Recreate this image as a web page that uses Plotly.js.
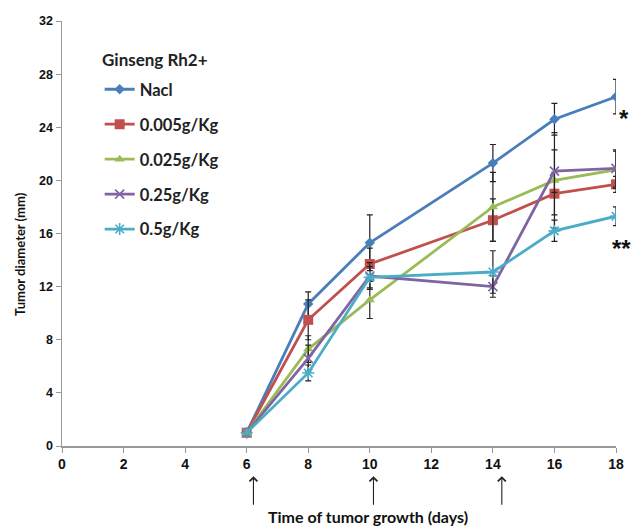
<!DOCTYPE html>
<html>
<head>
<meta charset="utf-8">
<script src="https://cdn.plot.ly/plotly-3.0.1.min.js"></script>
<style>html,body{margin:0;padding:0;background:#fff;}#chart{width:632px;height:526px;}</style>
</head>
<body>
<div id="chart"></div>
<script>
var days = [6, 8, 10, 14, 16, 18];
var seriesNames = ["Nacl", "0.005g/Kg", "0.025g/Kg", "0.25g/Kg", "0.5g/Kg"];
var nacl   = [1.0, 10.7, 15.3, 21.3, 24.6, 26.3];
var dose005 = [1.0, 9.5, 13.7, 17.0, 19.0, 19.7];
var dose025 = [1.0, 7.3, 11.0, 18.0, 20.0, 20.8];
var dose25  = [1.0, 6.6, 12.8, 12.0, 20.7, 20.9];
var dose5   = [1.0, 5.5, 12.7, 13.1, 16.2, 17.3];
var errNacl = [0, 0.9, 2.1, 1.4, 1.2, 1.3];
var err005  = [0, 1.5, 1.2, 1.6, 1.6, 0.6];
var err025  = [0, 1.0, 1.4, 2.6, 3.6, 1.4];
var err25   = [0, 1.0, 1.0, 0.8, 1.6, 1.4];
var err5    = [0, 0.6, 0.8, 1.6, 0.8, 0.7];
var arrowDays = [6.22, 10.12, 14.29];
var yTicks = [0, 4, 8, 12, 16, 20, 24, 28, 32];
var xTicks = [0, 2, 4, 6, 8, 10, 12, 14, 16, 18];

var values = [nacl, dose005, dose025, dose25, dose5];
var errs = [errNacl, err005, err025, err25, err5];
var colors = ["#4a7ebb", "#c0504d", "#9bbb59", "#8064a2", "#4bacc6"];
var symbols = ["diamond", "square", "triangle-up", "x-thin-open", "asterisk-open"];
var sizes = [8, 10, 9, 9, 10];

var traces = values.map(function (v, i) {
  return {
    x: days, y: v, name: "<b>" + seriesNames[i] + "</b>", type: "scatter", mode: "lines+markers",
    line: {color: colors[i], width: 2.8},
    marker: {symbol: symbols[i], size: sizes[i], color: colors[i], line: {color: colors[i], width: (i >= 3 ? 1.6 : 0)}},
    error_y: {type: "data", array: errs[i], visible: true, color: "#222", thickness: 1.2, width: 3},
    legendgroup: "g" + i
  };
});

var font = "Liberation Sans, Arial, sans-serif";
var titleFont = "Lato, Open Sans, sans-serif";

var annotations = arrowDays.map(function (d) {
  return {x: d, xref: "x", y: -0.071, yref: "paper", text: "", showarrow: true,
    arrowhead: 4, arrowsize: 1.4, arrowwidth: 1.1, arrowcolor: "#222", ax: 0, ay: 30};
});
annotations.push({x: 18, xref: "x", y: 24.8, yref: "y", yshift: -2, text: "<b>*</b>", showarrow: false,
  xanchor: "left", xshift: 1, font: {family: font, size: 24, color: "#111"}});
annotations.push({x: 18, xref: "x", y: 15.5, yref: "y", yshift: -8, text: "<b>**</b>", showarrow: false,
  xanchor: "left", xshift: -6, font: {family: font, size: 24, color: "#111"}});
annotations.push({x: 0.553, xref: "paper", y: -0.167, yref: "paper", yanchor: "middle",
  text: "<b>Time of tumor growth (days)</b>", showarrow: false,
  font: {family: titleFont, size: 16, color: "#111"}});
annotations.push({x: -0.075, xref: "paper", y: 0.453, yref: "paper", xanchor: "center", yanchor: "middle",
  textangle: -90, text: "<b>Tumor diameter (mm)</b>", showarrow: false,
  font: {family: titleFont, size: 13, color: "#111"}});
annotations.push({x: 0.0686, xref: "paper", y: 0.91, yref: "paper", xanchor: "left", yanchor: "middle",
  text: "<b>Ginseng Rh2+</b>", showarrow: false,
  font: {family: titleFont, size: 17, color: "#222"}});

var layout = {
  width: 632, height: 526,
  margin: {l: 62, r: 16, t: 21, b: 80},
  paper_bgcolor: "#fff", plot_bgcolor: "#fff",
  showlegend: true,
  legend: {
    x: 0.068, y: 0.880, xanchor: "left", yanchor: "top",
    bgcolor: "rgba(0,0,0,0)",
    font: {family: titleFont, size: 16.5, color: "#222"},
    traceorder: "grouped", tracegroupgap: 10.5, itemwidth: 30
  },
  xaxis: {
    range: [0, 18], tickvals: xTicks, ticktext: xTicks.map(function (t) { return "<b>" + t + "</b>"; }),
    showgrid: false, zeroline: false, showline: true, linecolor: "#999", linewidth: 1.5,
    ticks: "outside", ticklen: 5, tickcolor: "#999",
    tickfont: {family: font, size: 14, color: "#111"}
  },
  yaxis: {
    range: [0, 32], tickvals: yTicks, ticktext: yTicks.map(function (t) { return "<b>" + t + "</b>"; }),
    showgrid: false, zeroline: false, showline: true, linecolor: "#999", linewidth: 1.5,
    ticks: "outside", ticklen: 5, tickcolor: "#999",
    tickfont: {family: font, size: 12.5, color: "#111"}
  },
  annotations: annotations
};

Plotly.newPlot("chart", traces, layout, {displayModeBar: false, staticPlot: true});
</script>
</body>
</html>
